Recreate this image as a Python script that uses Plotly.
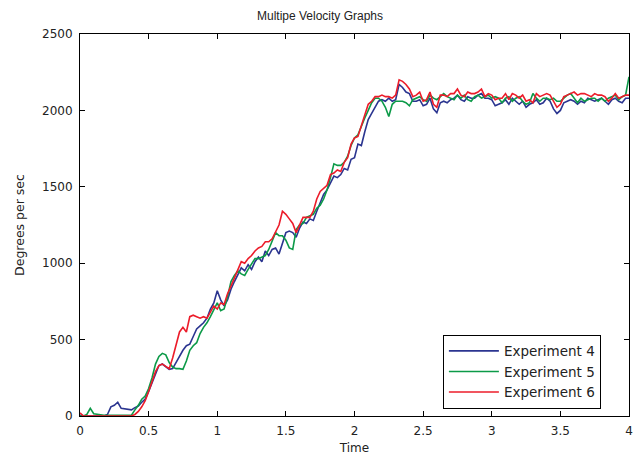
import numpy as np
import plotly.graph_objects as go

time = [round(i * 0.025, 3) for i in range(161)]

exp4 = [5, 0, 0, 0, 0, 0, 0, 0, 10, 60,
        70, 90, 50, 45, 40, 40, 55, 65, 90, 110,
        160, 220, 280, 330, 340, 320, 305, 310, 350, 400,
        430, 460, 470, 520, 570, 590, 610, 640, 700, 740,
        820, 760, 720, 760, 830, 880, 930, 970, 950, 990,
        960, 1010, 1040, 1010, 1080, 1050, 1090, 1100, 1060, 1130,
        1200, 1210, 1200, 1170, 1230, 1270, 1260, 1290, 1280, 1340,
        1400, 1450, 1480, 1530, 1570, 1560, 1580, 1620, 1610, 1680,
        1690, 1780, 1770, 1860, 1940, 1980, 2020, 2060, 2070, 2060,
        2080, 2060, 2070, 2170, 2150, 2120, 2110, 2060, 2060, 2070,
        2030, 2040, 2080, 2010, 1985, 2050, 2060, 2050, 2070, 2080,
        2100, 2070, 2060, 2090, 2080, 2080, 2100, 2110, 2080, 2080,
        2070, 2030, 2040, 2050, 2070, 2040, 2080, 2060, 2040, 2060,
        2020, 2040, 2050, 2070, 2040, 2050, 2080, 2060, 2010, 1980,
        2000, 2050, 2060, 2070, 2060, 2040, 2060, 2050, 2080, 2070,
        2060, 2070, 2080, 2060, 2040, 2070, 2080, 2060, 2050, 2080,
        2080]

exp5 = [0, 0, 10, 50, 15, 10, 5, 5, 5, 5,
        5, 5, 5, 5, 5, 5, 40, 70, 110, 130,
        180, 250, 340, 390, 410, 400, 350, 320, 310, 310,
        305, 360, 430, 460, 480, 540, 580, 610, 650, 700,
        740, 690, 700, 780, 880, 920, 950, 930, 920, 960,
        1000, 1030, 1030, 1040, 1050, 1090, 1150, 1200, 1180, 1180,
        1150, 1100, 1090, 1220, 1250, 1260, 1300, 1310, 1320, 1360,
        1380, 1420, 1480, 1560, 1650, 1640, 1640, 1660, 1700, 1770,
        1820, 1840, 1900, 1950, 2000, 2050, 2080, 2080, 2060, 2020,
        1960, 2040, 2060, 2060, 2060, 2050, 2030, 2070, 2080, 2090,
        2070, 2060, 2100, 2080, 2070, 2090, 2110, 2090, 2080, 2070,
        2100, 2080, 2100, 2070, 2060, 2090, 2100, 2080, 2090, 2100,
        2080, 2090, 2080, 2050, 2080, 2090, 2060, 2080, 2090, 2060,
        2040, 2050, 2110, 2080, 2060, 2080, 2080, 2070, 2080, 2060,
        2060, 2080, 2100, 2110, 2080, 2050, 2080, 2060, 2070, 2080,
        2080, 2060, 2080, 2060, 2080, 2090, 2100, 2070, 2090, 2100,
        2220]

exp6 = [20, 0, 0, 0, 0, 0, 0, 0, 0, 0,
        0, 0, 0, 0, 0, 0, 10, 30, 60, 100,
        160, 230, 290, 330, 340, 325, 310, 380, 470, 550,
        580, 550, 650, 660, 650, 640, 650, 640, 680, 720,
        700, 740, 730, 800, 850, 900, 960, 1010, 1000, 1030,
        1050, 1080, 1100, 1110, 1140, 1140, 1160, 1200, 1250, 1340,
        1320, 1290, 1260, 1200, 1250, 1300, 1300, 1300, 1340, 1420,
        1470, 1490, 1510, 1580, 1590, 1610, 1600, 1660, 1690, 1780,
        1820, 1830, 1900, 1970, 2040, 2060, 2090, 2090, 2100, 2090,
        2090, 2080, 2100, 2200, 2190, 2170, 2140, 2090, 2100, 2120,
        2060, 2070, 2120, 2040, 2020, 2100, 2100, 2090, 2110, 2110,
        2140, 2100, 2090, 2120, 2110, 2110, 2120, 2140, 2090, 2110,
        2100, 2070, 2080, 2080, 2110, 2070, 2110, 2100, 2080, 2100,
        2060, 2070, 2050, 2110, 2090, 2100, 2110, 2100, 2060, 2020,
        2040, 2090, 2100, 2110, 2120, 2100, 2110, 2110, 2100, 2090,
        2110, 2100, 2100, 2090, 2060, 2080, 2110, 2080, 2090, 2100,
        2100]

series_names = ["Experiment 4", "Experiment 5", "Experiment 6"]
series_colors = ["#2b3590", "#0c9a48", "#ec1c2a"]
x_ticks = [0, 0.5, 1, 1.5, 2, 2.5, 3, 3.5, 4]
y_ticks = [0, 500, 1000, 1500, 2000, 2500]

fig = go.Figure()
for name, ys, col in zip(series_names, [exp4, exp5, exp6], series_colors):
    fig.add_trace(go.Scatter(x=time, y=ys, mode="lines", name=name,
                             line=dict(color=col, width=1.6)))

wide = "DejaVu Sans, Verdana, sans-serif"
axis_common = dict(showgrid=False, zeroline=False, showline=True, linecolor="black",
                   linewidth=1, mirror="ticks", ticks="inside", ticklen=5,
                   tickcolor="black", automargin=False, ticklabelstandoff=4,
                   tickfont=dict(family=wide, size=12, color="#222"))

fig.update_layout(
    width=640, height=455,
    margin=dict(l=80, r=11, t=34, b=39),
    paper_bgcolor="white", plot_bgcolor="white",
    font=dict(family="Liberation Sans, Arial, sans-serif", size=11, color="#222"),
    title=dict(text="Multipe Velocity Graphs", x=0.5, xanchor="center",
               y=1 - 16 / 455, yanchor="middle", font=dict(size=12)),
    xaxis=dict(range=[0, 4], tickvals=x_ticks, ticktext=[str(v) for v in x_ticks],
               title=dict(text="Time", standoff=6, font=dict(family=wide, size=12)), **axis_common),
    yaxis=dict(range=[0, 2500], tickvals=y_ticks,
               title=dict(text="Degrees per sec", standoff=14, font=dict(family=wide, size=12.5)), **axis_common),
    legend=dict(x=0.661, y=0.213, xanchor="left", yanchor="top",
                bordercolor="black", borderwidth=1, bgcolor="white",
                font=dict(family=wide, size=13.5), tracegroupgap=0, itemwidth=50),
    showlegend=True,
)

fig.write_html("out.html", config={"displayModeBar": False},
               post_script="document.body.style.margin='0';")
